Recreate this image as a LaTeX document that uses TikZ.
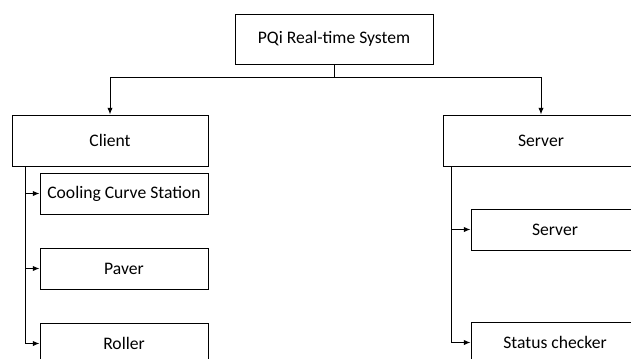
\documentclass[tikz,border=0pt]{standalone}
\usepackage{fontspec}
\setmainfont{Carlito}
\usepackage{tikz}
\usetikzlibrary{positioning}
\usetikzlibrary{arrows.meta}

\begin{document}
\begin{tikzpicture}[x=0.75pt, y=-0.75pt,
        box/.style={draw, line width=0.75pt, inner sep=0pt,
            font=\fontsize{13.2}{15}\selectfont},
        mainbox/.style={box, minimum width=147pt, minimum height=38.25pt},
        subbox/.style={box, minimum width=126pt, minimum height=30.75pt},
        link/.style={line width=0.75pt, -{Latex[length=5pt,width=4pt]}}]

        \def\d{24.75pt}

        % page is the 631 x 358 frame, boxes run off its edges
        \useasboundingbox (0,0) rectangle (631,358);
        \clip (0,0) rectangle (631,358);

        \node[box, minimum width=148.5pt, minimum height=37.5pt] (sys)
            at (334,39) {PQi Real-time System};
        \node[mainbox] (client) at (110,140.5) {Client};
        \node[mainbox] (server) at (541,140.5) {Server};

        % client side
        \node[subbox] (C1) [below right=4.5pt and 21pt of client.south west]
            {Cooling Curve Station};
        \node[subbox] (C2) [below=\d of C1] {Paver};
        \node[subbox] (C3) [below=\d of C2] {Roller};

        % server side
        \node[subbox] (S1) [below right=31.5pt and 21pt of server.south west]
            {Server};
        \node[subbox] (S2) [below=53.25pt of S1] {Status checker};

        \begin{scope}[link]
            \draw (sys.south) -- ++(0,-10pt) -| (client.north);
            \draw (sys.south) -- ++(0,-10pt) -| (server.north);

            \foreach\x in {1,..., 3}
            \draw ([xshift=10.5pt]client.south west) |- (C\x.west);
            \foreach\x in {1, 2}
            \draw ([xshift=6.75pt]server.south west) |- (S\x.west);
        \end{scope}

\end{tikzpicture}
\end{document}
